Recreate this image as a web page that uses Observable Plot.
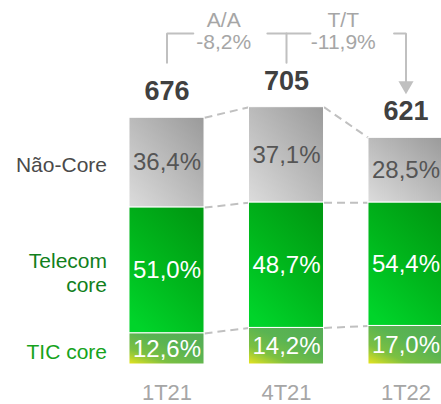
<!DOCTYPE html>
<html><head><meta charset="utf-8">
<script src="https://cdn.jsdelivr.net/npm/d3@7"></script>
<script src="https://cdn.jsdelivr.net/npm/@observablehq/plot@0.6"></script>
<style>html,body{margin:0;padding:0;background:#fff;overflow:hidden}</style>
</head><body><div id="chart"></div>
<script>
const categories = ["1T21", "4T21", "1T22"];
const totals = [676, 705, 621];
const seriesNames = ["Não-Core", "Telecom core", "TIC core"];
const naoCore = [36.4, 37.1, 28.5];
const telecomCore = [51.0, 48.7, 54.4];
const ticCore = [12.6, 14.2, 17.0];
const changeLabels = ["A/A", "T/T"];
const changeValues = ["-8,2%", "-11,9%"];

// layout constants
const hw = 0.314;            // half bar width in category-index units
const bracketTop = 907, stubBottom = 827, arrowTip = 740;
const FONT = "'Liberation Sans', Arial, Helvetica, sans-serif";
const LINE = "#c0c0c0";

const stackOrder = [["TIC core", ticCore], ["Telecom core", telecomCore], ["Não-Core", naoCore]];
const rows = [];
categories.forEach((c, i) => {
  let y = 0;
  stackOrder.forEach(([s, arr], k) => {
    const v = totals[i] * arr[i] / 100;
    const y2 = k === stackOrder.length - 1 ? totals[i] : y + v;
    rows.push({i, cat: c, series: s, pct: arr[i], y1: y, y2});
    y = y2;
  });
});
const levels = i => rows.filter(r => r.i === i).map(r => r.y2).reverse(); // top, nao/tel, tel/tic
const connectors = [];
for (let i = 0; i < categories.length - 1; i++) {
  const a = levels(i), b = levels(i + 1);
  a.forEach((v, k) => connectors.push({x1: i + hw, x2: i + 1 - hw, y1: v, y2: b[k]}));
}
const fmt = p => p.toFixed(1).replace(".", ",") + "%";
const gradIds = {"Não-Core": "url(#gNao)", "Telecom core": "url(#gTel)", "TIC core": "url(#gTic)"};
const labelColors = {"Não-Core": "#4a4a4a", "Telecom core": "#11801c", "TIC core": "#16a31c"};
const pctColors = {"Não-Core": "#555555", "Telecom core": "#ffffff", "TIC core": "#ffffff"};

const bracket = [
  {z: 0, x: 0, y: stubBottom}, {z: 0, x: 0, y: bracketTop}, {z: 0, x: 0.22, y: bracketTop},
  {z: 1, x: 0.84, y: bracketTop}, {z: 1, x: 1.2, y: bracketTop},
  {z: 2, x: 1, y: bracketTop}, {z: 2, x: 1, y: stubBottom},
  {z: 3, x: 1.9, y: bracketTop}, {z: 3, x: 2, y: bracketTop}, {z: 3, x: 2, y: arrowTip + 24}
];

const firstBar = rows.filter(r => r.i === 0);
const marks = [
  Plot.link(connectors, {x1: "x1", x2: "x2", y1: "y1", y2: "y2", stroke: LINE, strokeWidth: 2, strokeDasharray: "8,5"}),
  ...seriesNames.map(s => Plot.rect(rows.filter(r => r.series === s), {x1: d => d.i - hw, x2: d => d.i + hw, y1: "y1", y2: "y2", fill: gradIds[s], stroke: "white", strokeWidth: 1})),
  ...seriesNames.map(s => Plot.text(rows.filter(r => r.series === s), {x: "i", y: d => (d.y1 + d.y2) / 2, text: d => fmt(d.pct), fill: pctColors[s], fontSize: 24})),
  Plot.text(categories.map((c, i) => ({c, i, t: totals[i]})), {x: "i", y: "t", text: d => String(d.t), dy: -26, fontSize: 27, fontWeight: "bold", fill: "#404040"}),
  Plot.text(categories.map((c, i) => ({c, i})), {x: "i", y: () => 0, text: "c", dy: 28, fontSize: 22, fill: "#a6a6a6"}),
  ...seriesNames.map(s => Plot.text(firstBar.filter(r => r.series === s), {x: "i", y: d => (d.y1 + d.y2) / 2, text: d => d.series === "Telecom core" ? "Telecom\ncore" : d.series, dx: -60, dy: 2, textAnchor: "end", lineHeight: 1.15, fontSize: 21, fill: labelColors[s]})),
  Plot.line(bracket, {x: "x", y: "y", z: "z", stroke: LINE, strokeWidth: 2, curve: "linear", strokeLinejoin: "miter"}),
  Plot.dot([{x: 2, y: arrowTip + 24}], {x: "x", y: "y", symbol: "triangle", r: 5.6, rotate: 180, fill: LINE, stroke: "none"}),
  Plot.text(changeLabels.map((l, k) => ({l, x: k + 0.5})), {x: "x", y: () => bracketTop, text: "l", dx: -3, dy: -13, fontSize: 21, fill: "#a6a6a6"}),
  Plot.text(changeValues.map((l, k) => ({l, x: k + 0.5})), {x: "x", y: () => bracketTop, text: "l", dx: -3, dy: 9, fontSize: 21, fill: "#a6a6a6"})
];

const svg = Plot.plot({
  width: 441, height: 404,
  marginLeft: 0, marginRight: 0, marginTop: 0, marginBottom: 40,
  style: {fontFamily: FONT, background: "white", overflow: "hidden"},
  x: {domain: [0, 2], range: [166.5, 405.5], axis: null},
  y: {domain: [0, 1000], range: [364, -1], axis: null},
  marks
});

const defs = d3.select(svg).insert("defs", ":first-child");
function grad(id, stops, x1, y1, x2, y2) {
  const g = defs.append("linearGradient").attr("id", id)
    .attr("x1", x1).attr("y1", y1).attr("x2", x2).attr("y2", y2);
  stops.forEach(([o, c]) => g.append("stop").attr("offset", o).attr("stop-color", c));
}
grad("gNao", [[0, "#dcdcdc"], [1, "#9a9a9a"]], 0, 1, 1, 0);
grad("gTel", [[0, "#00d42a"], [0.5, "#00b61c"], [1, "#009a12"]], 0.2, 1, 0.8, 0);
grad("gTic", [[0, "#e8e41e"], [0.28, "#7cc042"], [0.6, "#5ab452"], [1, "#55ad55"]], 0, 1, 0.9, 0);

document.getElementById("chart").appendChild(svg);
</script>
</body></html>
